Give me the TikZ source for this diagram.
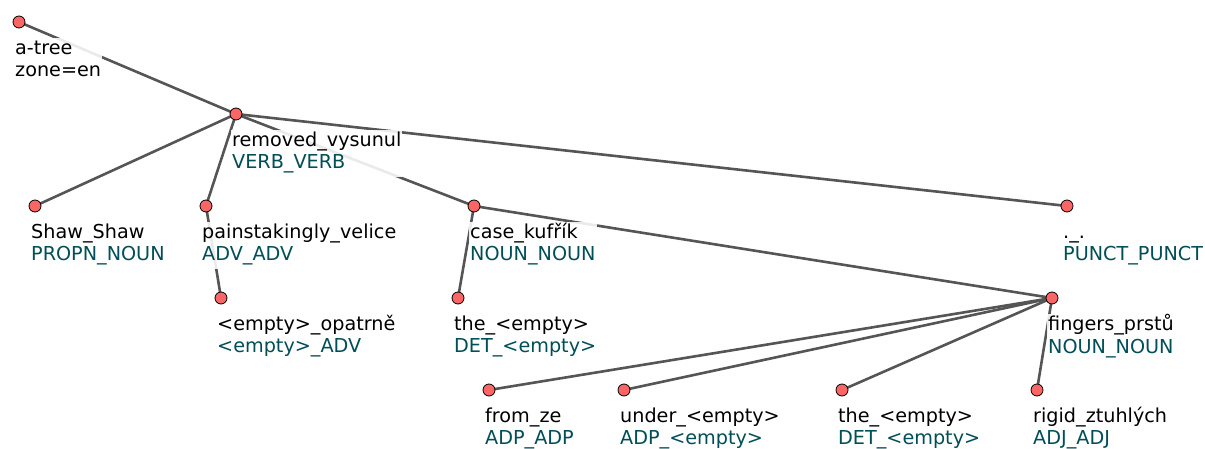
\documentclass[tikz,border=0pt]{standalone}
\usepackage{fontspec}
\setmainfont{DejaVu Sans}
\usepackage{tikz}
\usetikzlibrary{positioning,backgrounds}
\definecolor{mysalmon}{RGB}{250,102,102}
\definecolor{myedge}{RGB}{85,85,85}
\definecolor{mytag}{RGB}{0,78,88}

\begin{document}
\begin{tikzpicture}[
  x=1pt,y=-1pt,
  tnode/.style={
    circle,
    draw=black,
    line width=0.8pt,
    fill=mysalmon,
    inner sep=0pt,
    minimum size=12pt
    },
  tlabel/.style={
    anchor=north west,
    align=left,
    fill=white,
    fill opacity=0.88,
    text opacity=1,
    inner sep=1pt,
    xshift=-5pt,
    yshift=-15.5pt,
    font=\fontsize{19.2}{22.5}\selectfont
    },
  tedge/.style={
    draw=myedge,
    line width=2.6pt
    }
]
\useasboundingbox (0,0) rectangle (1205,449);

% tree nodes
\node[tnode] (root)     at (19,22)   {};
\node[tnode] (removed)  at (236,114)  {};
\node[tnode] (shaw)     at (35,206)  {};
\node[tnode] (pains)    at (206,206) {};
\node[tnode] (opatrne)  at (221,298) {};
\node[tnode] (case)     at (474,206) {};
\node[tnode] (theA)     at (458,298) {};
\node[tnode] (punct)    at (1067,206) {};
\node[tnode] (fingers)  at (1052,298) {};
\node[tnode] (from)     at (489,390) {};
\node[tnode] (under)    at (624,390) {};
\node[tnode] (theB)     at (842,390) {};
\node[tnode] (rigid)    at (1037,390) {};

% edges
\begin{scope}[on background layer]
\foreach \Parent/\Child in {root/removed, removed/shaw, removed/pains,
    removed/case, removed/punct, pains/opatrne, case/theA, case/fingers,
    fingers/from, fingers/under, fingers/theB, fingers/rigid}
  \draw[tedge] (\Parent.center) -- (\Child.center);
\end{scope}

% labels
\node[tlabel] (rootlab) at (root) {\strut a-tree\\\strut zone=en};
\foreach \Node/\Word/\Tag in {
    removed/removed\_vysunul/VERB\_VERB,
    shaw/Shaw\_Shaw/PROPN\_NOUN,
    pains/painstakingly\_velice/ADV\_ADV,
    opatrne/<empty>\_opatrně/<empty>\_ADV,
    case/case\_kufřík/NOUN\_NOUN,
    theA/the\_<empty>/DET\_<empty>,
    punct/.\_./PUNCT\_PUNCT,
    fingers/fingers\_prstů/NOUN\_NOUN,
    from/from\_ze/ADP\_ADP,
    under/under\_<empty>/ADP\_<empty>,
    theB/the\_<empty>/DET\_<empty>,
    rigid/rigid\_ztuhlých/ADJ\_ADJ}
  \node[tlabel] (\Node lab) at (\Node) {\strut \Word\\\strut\textcolor{mytag}{\Tag}};

\end{tikzpicture}
\end{document}
